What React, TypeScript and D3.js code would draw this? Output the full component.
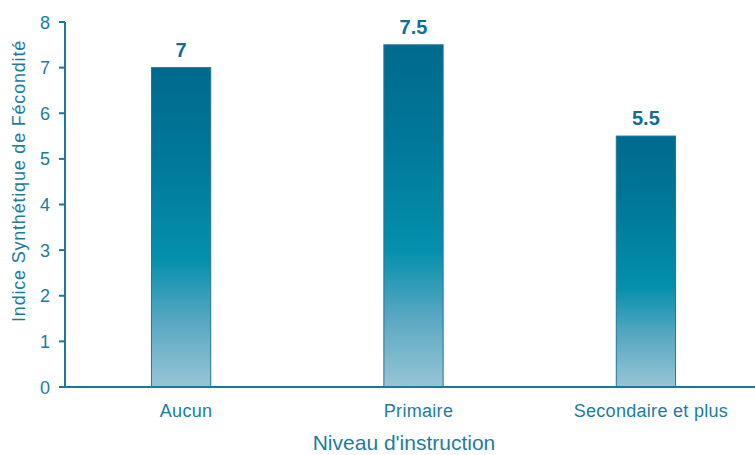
import React from "react";
import * as d3 from "d3";

const categories = ["Aucun", "Primaire", "Secondaire et plus"];
const values = [7, 7.5, 5.5];
const valueLabels = ["7", "7.5", "5.5"];
const yTicks = [0, 1, 2, 3, 4, 5, 6, 7, 8];

const W = 755;
const H = 455;
const axisColor = "#1b7898";
const textColor = "#1d7c9e";
const font = "'Liberation Sans', Arial, sans-serif";

export default function App() {
  const x = d3.scaleBand<string>().domain(categories).range([65, 762]).paddingInner(0.745).paddingOuter(0.372);
  const y = d3.scaleLinear().domain([0, 8]).range([387, 22]);

  return (
    <svg width={W} height={H} style={{ position: "absolute", left: 0, top: 0 }} fontFamily={font}>
      <defs>
        <linearGradient id="barGrad" x1="0" y1="0" x2="0" y2="1">
          <stop offset="0" stopColor="#006a8d" />
          <stop offset="0.3" stopColor="#00799a" />
          <stop offset="0.6" stopColor="#0490ac" />
          <stop offset="0.8" stopColor="#5aa8c2" />
          <stop offset="1" stopColor="#97c5d5" />
        </linearGradient>
      </defs>

      {/* Bars */}
      {categories.map((c, i) => (
        <g key={c}>
          <rect
            x={x(c)}
            y={y(values[i])}
            width={x.bandwidth()}
            height={y(0) - y(values[i])}
            fill="url(#barGrad)"
            stroke="#1f7796"
            strokeWidth={1}
          />
          <text
            x={(x(c) as number) + x.bandwidth() / 2}
            y={y(values[i]) - 11}
            textAnchor="middle"
            fontSize={20}
            fontWeight="bold"
            fill="#0f6f92"
          >
            {valueLabels[i]}
          </text>
          <text
            x={(x(c) as number) + x.bandwidth() / 2 + 5}
            y={417}
            textAnchor="middle"
            fontSize={18}
            letterSpacing={0.3}
            fill={textColor}
          >
            {c}
          </text>
        </g>
      ))}

      {/* Y axis */}
      <line x1={65} x2={65} y1={y(8)} y2={y(0)} stroke={axisColor} strokeWidth={2} />
      {yTicks.map((t) => (
        <g key={t}>
          <line x1={59} x2={65} y1={y(t)} y2={y(t)} stroke={axisColor} strokeWidth={2} />
          <text x={50} y={y(t) + 6.5} textAnchor="end" fontSize={18} fill={textColor}>
            {t}
          </text>
        </g>
      ))}

      {/* X axis */}
      <line x1={59} x2={W} y1={y(0)} y2={y(0)} stroke={axisColor} strokeWidth={2} />

      {/* Titles */}
      <text x={404} y={450} textAnchor="middle" fontSize={21} fill={textColor}>
        Niveau d'instruction
      </text>
      <text
        transform={`translate(25,${181}) rotate(-90)`}
        textAnchor="middle"
        fontSize={18}
        letterSpacing={0.8}
        fill={textColor}
      >
        Indice Synthétique de Fécondité
      </text>
    </svg>
  );
}
